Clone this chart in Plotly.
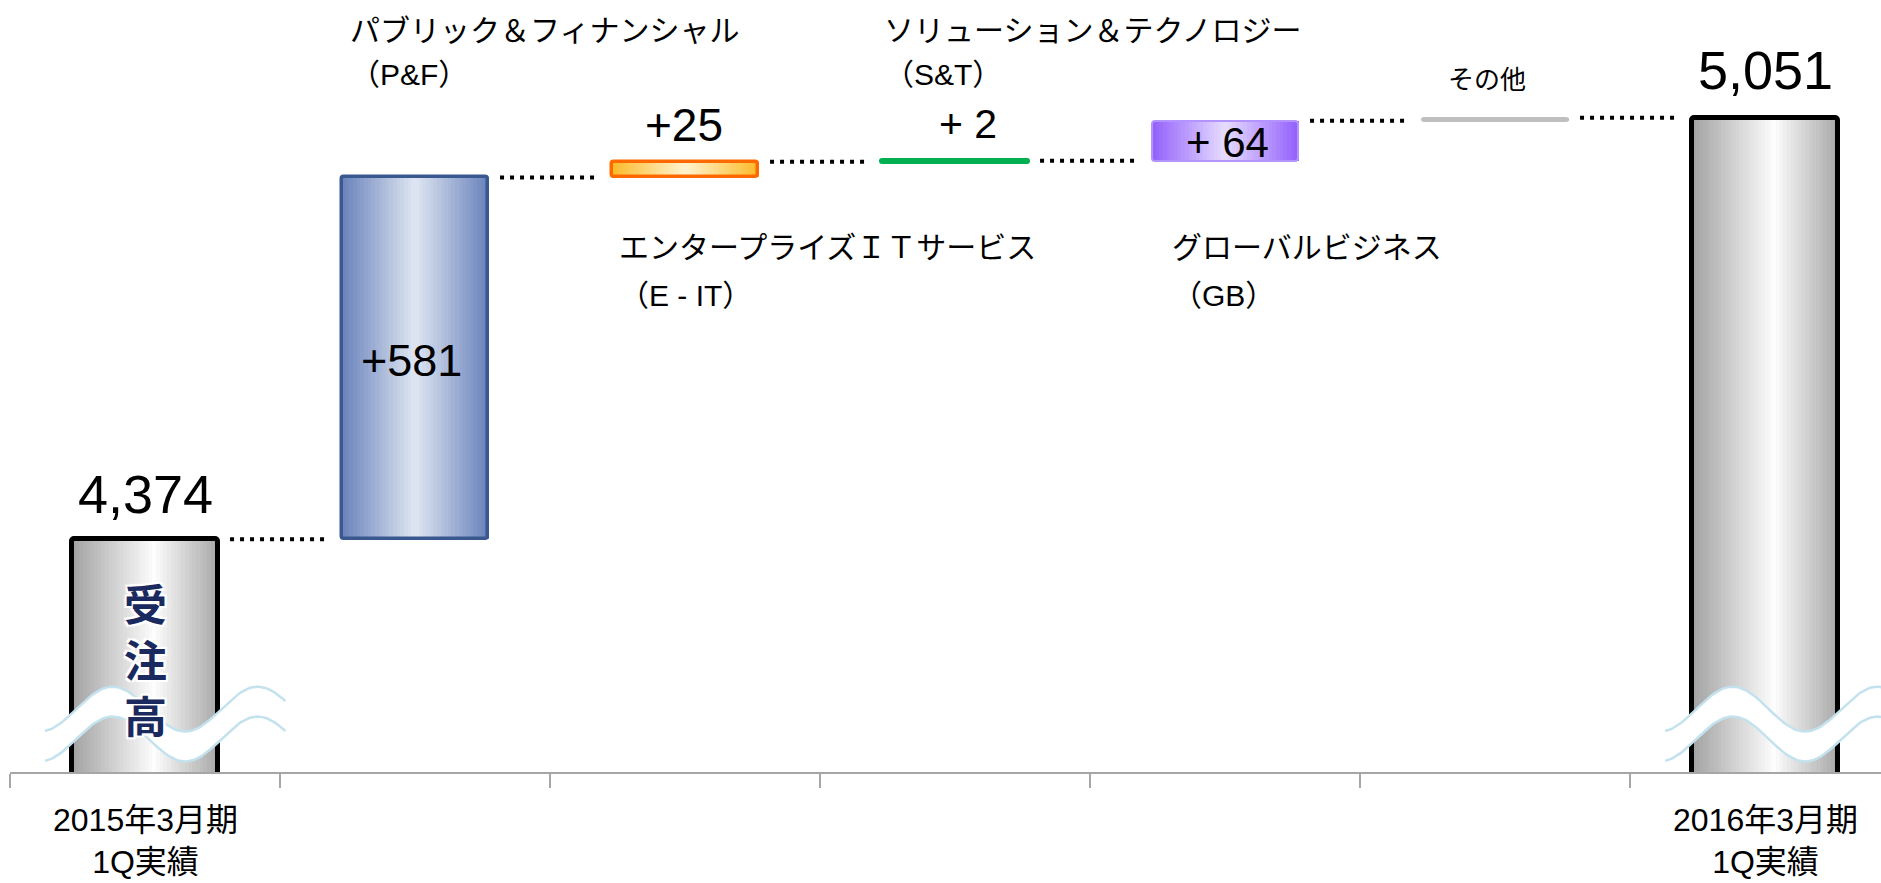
import numpy as np
import plotly.graph_objects as go

# ---------------- data ----------------
categories = ["2015年3月期<br>1Q実績", "パブリック＆フィナンシャル", "エンタープライズＩＴサービス",
              "ソリューション＆テクノロジー", "グローバルビジネス", "その他", "2016年3月期<br>1Q実績"]
seg_names = ["パブリック＆フィナンシャル", "エンタープライズＩＴサービス", "ソリューション＆テクノロジー",
             "グローバルビジネス", "その他"]
seg_abbr = ["（P&F）", "（E - IT）", "（S&T）", "（GB）", ""]
start_total = 4374
deltas = [581, 25, 2, 64, 5]
end_total = 5051
delta_labels = ["+581", "+25", "+ 2", "+ 64", ""]
total_labels = ["4,374", "5,051"]
bar_caption = "受<br>注<br>高"

# ---------------- derived ----------------
n = len(categories)
xs = list(range(n))
bases, heights, tops = [0], [start_total], [start_total]
run = start_total
for d in deltas:
    bases.append(run)
    heights.append(d)
    run += d
    tops.append(run)
bases.append(0)
heights.append(end_total)
tops.append(end_total)

BAR_W = 0.54
Y0, Y1 = 4000, 5240
PLOT_H = 772


def xd(px):
    return (px - 10) / 270 - 0.5


def yp(py):
    return 1 - py / PLOT_H


def hex2rgb(h):
    h = h.lstrip('#')
    return [int(h[i:i + 2], 16) for i in (0, 2, 4)]


def grad(stops, t):
    for (t0, c0), (t1, c1) in zip(stops[:-1], stops[1:]):
        if t0 <= t <= t1:
            f = 0 if t1 == t0 else (t - t0) / (t1 - t0)
            a, b = hex2rgb(c0), hex2rgb(c1)
            return 'rgb(%d,%d,%d)' % tuple(round(a[k] + (b[k] - a[k]) * f) for k in range(3))
    return stops[-1][1]


palettes = [
    [(0, '#a2a2a2'), (0.56, '#fdfdfd'), (1, '#a8a8a8')],
    [(0, '#6983bc'), (0.5, '#e0e6f2'), (1, '#6983bc')],
    [(0, '#fbbb28'), (0.5, '#fff3cf'), (1, '#fbbb28')],
    [(0, '#00b050'), (1, '#00b050')],
    [(0, '#9360fb'), (0.5, '#e6ddff'), (1, '#9360fb')],
    [(0, '#bfbfbf'), (1, '#bfbfbf')],
    [(0, '#a2a2a2'), (0.56, '#fdfdfd'), (1, '#a8a8a8')],
]
outline_cols = ['#000000', '#3a5890', '#ff6a00', '#00b050', '#b394ff', '#bfbfbf', '#000000']
outline_w = [5, 3.5, 3.5, 5, 2, 2, 5]

fig = go.Figure()

N = 40
sw = BAR_W / N
for j in range(N):
    t = (j + 0.5) / N
    fig.add_trace(go.Bar(
        x=xs, y=heights, base=bases,
        width=[sw * 1.2] * n, offset=[-BAR_W / 2 + j * sw] * n,
        marker=dict(color=[grad(p, t) for p in palettes], line=dict(width=0)),
        hoverinfo='skip', showlegend=False))

fig.add_trace(go.Bar(
    x=xs, y=heights, base=bases, width=[BAR_W] * n,
    marker=dict(color='rgba(0,0,0,0)', line=dict(color=outline_cols, width=outline_w), cornerradius=3),
    hoverinfo='skip', showlegend=False))

# connectors
cx, cy = [], []
for i in range(n - 1):
    cx += [i + 0.315, i + 1 - 0.315, None]
    cy += [tops[i], tops[i], None]
fig.add_trace(go.Scatter(x=cx, y=cy, mode='lines',
                         line=dict(color='black', width=4, dash='4px,6px'),
                         hoverinfo='skip', showlegend=False))

# axis-break waves on the two total bars
for c in (0, n - 1):
    wx = c + np.linspace(-0.37, 0.52, 120)
    ph = 2 * np.pi * (wx - (c - 0.12)) / 0.537
    up = 4101 + 36 * np.cos(ph)
    lo = 4053 + 36 * np.cos(ph)
    fig.add_trace(go.Scatter(x=np.concatenate([wx, wx[::-1]]), y=np.concatenate([up, lo[::-1]]),
                             mode='lines', fill='toself', fillcolor='white', line=dict(width=0),
                             hoverinfo='skip', showlegend=False))
    for yy in (up, lo):
        fig.add_trace(go.Scatter(x=wx, y=yy, mode='lines', line=dict(color='#c3e2ee', width=2.5),
                                 hoverinfo='skip', showlegend=False))

FONT = "Liberation Sans, Arial, Noto Sans CJK JP"
ann = []

# total labels
ann.append(dict(x=0, y=yp(494), text=total_labels[0], font=dict(size=54)))
ann.append(dict(x=n - 1, y=yp(70), text=total_labels[1], font=dict(size=54)))

# delta labels
dl_pos = [(411, 360, 45), (684, 125, 46), (968, 124, 41), (1227, 142, 42)]
for lab, (px, py, fs) in zip(delta_labels[:4], dl_pos):
    ann.append(dict(x=xd(px), y=yp(py), text=lab, font=dict(size=fs)))

# segment names
name_pos = [(348, 30, 74), (617, 247, 295), (882, 30, 74), (1170, 247, 295)]
for k, (px, py1, py2) in enumerate(name_pos):
    ann.append(dict(x=xd(px), y=yp(py1), text=seg_names[k], xanchor='left', font=dict(size=30)))
    ann.append(dict(x=xd(px), y=yp(py2), text=seg_abbr[k], xanchor='left', font=dict(size=30)))
ann.append(dict(x=xd(1487), y=yp(80), text=seg_names[4], font=dict(size=26)))

# category labels (first and last only)
for i in (0, n - 1):
    ann.append(dict(x=i, y=yp(841), text=categories[i], font=dict(size=32)))

# 受注高 vertical text
shadow = "2px 2px 0 #fff, -2px -2px 0 #fff, 2px -2px 0 #fff, -2px 2px 0 #fff, 0 0 5px #fff"
ann.append(dict(x=0, y=yp(658), text="<b>%s</b>" % bar_caption,
                font=dict(size=43, color='#1b2a5e', family="Noto Sans CJK JP", shadow=shadow)))

for a in ann:
    a.setdefault('xref', 'x')
    a.setdefault('yref', 'paper')
    a.setdefault('showarrow', False)
    a.setdefault('yanchor', 'middle')
    a.setdefault('xanchor', 'center')
    f = a['font']
    f.setdefault('family', FONT)
    f.setdefault('color', 'black')

fig.update_layout(
    width=1881, height=883,
    margin=dict(l=10, r=0, t=0, b=111),
    paper_bgcolor='white', plot_bgcolor='white',
    barmode='overlay', bargap=0,
    showlegend=False,
    annotations=ann,
    xaxis=dict(range=[-0.5, -0.5 + 1871 / 270], showgrid=False, zeroline=False,
               showline=True, linecolor='#a6a6a6', linewidth=2,
               ticks='outside', tickvals=[i - 0.5 for i in range(n + 1)], ticklen=14,
               tickcolor='#a6a6a6', tickwidth=1.5, showticklabels=False, fixedrange=True),
    yaxis=dict(range=[Y0, Y1], visible=False, fixedrange=True),
)

fig.write_html("out.html", config={"displayModeBar": False},
               post_script="document.body.style.margin='0px';document.body.style.overflow='hidden';")
